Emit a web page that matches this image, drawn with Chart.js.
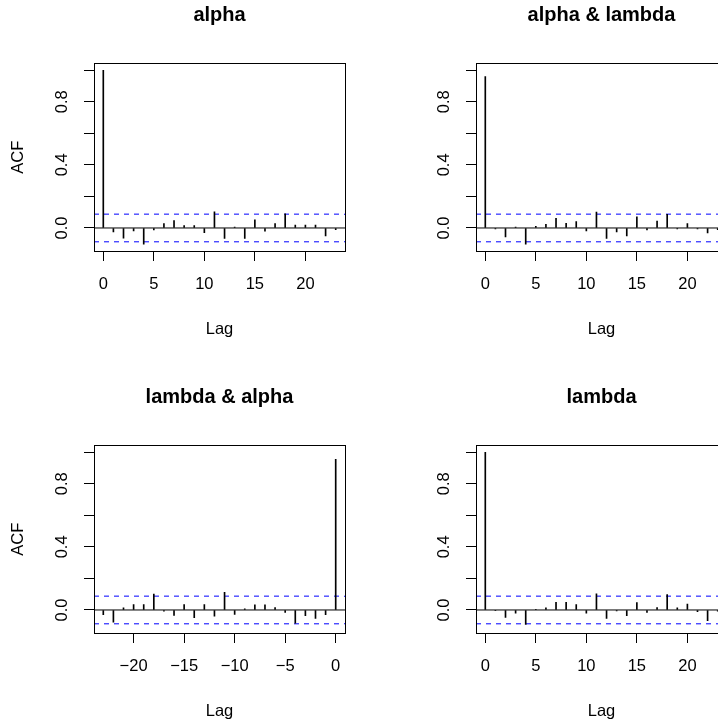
<!DOCTYPE html>
<html>
<head>
<meta charset="utf-8">
<script src="https://cdn.jsdelivr.net/npm/chart.js@4"></script>
<style>
  html, body { margin:0; padding:0; background:#fff; overflow:hidden; width:718px; height:721px; }
  #wrap { position:relative; width:764px; height:764px; }
  #wrap canvas { position:absolute; }
</style>
</head>
<body>
<div id="wrap">
  <canvas id="p-alpha" width="382" height="382" style="left:0;top:0"></canvas>
  <canvas id="p-alpha-lambda" width="382" height="382" style="left:382px;top:0"></canvas>
  <canvas id="p-lambda-alpha" width="382" height="382" style="left:0;top:382px"></canvas>
  <canvas id="p-lambda" width="382" height="382" style="left:382px;top:382px"></canvas>
</div>
<script>
// lags
const lagsPos = [0,1,2,3,4,5,6,7,8,9,10,11,12,13,14,15,16,17,18,19,20,21,22,23];
const lagsNeg = [-23,-22,-21,-20,-19,-18,-17,-16,-15,-14,-13,-12,-11,-10,-9,-8,-7,-6,-5,-4,-3,-2,-1,0];

// ACF values
const acfAlpha = [1.0,-0.025,-0.064,-0.019,-0.102,-0.013,0.028,0.047,0.015,0.015,-0.030,0.102,
                  -0.066,0.006,-0.066,0.051,-0.021,0.028,0.089,0.019,0.019,0.019,-0.051,-0.011];
const acfAlphaLambda = [0.960,-0.006,-0.057,0.005,-0.102,0.010,0.023,0.061,0.030,0.040,-0.019,0.100,
                        -0.066,-0.025,-0.051,0.070,-0.013,0.044,0.087,-0.006,0.028,-0.006,-0.032,-0.010];
const acfLambdaAlpha = [-0.030,-0.078,0.013,0.034,0.034,0.100,-0.008,-0.034,0.034,-0.049,0.034,-0.040,
                        0.112,-0.028,0.008,0.032,0.032,0.015,-0.015,-0.083,-0.036,-0.053,-0.030,0.955];
const acfLambda = [1.0,-0.003,-0.047,-0.021,-0.091,0.004,0.013,0.049,0.049,0.034,-0.021,0.102,
                   -0.053,-0.006,-0.036,0.047,-0.015,0.015,0.097,0.013,0.038,-0.011,-0.068,-0.008];

const ciBound = 0.0877;
const yLabelTicks = [0, 0.4, 0.8];
const yMin = -0.146, yMax = 1.044;
const posRange = [-0.92, 23.92];
const negRange = [-23.92, 0.92];

const FONT = '"Liberation Sans", Arial, sans-serif';
Chart.defaults.font.family = FONT;
Chart.defaults.color = '#000';

const framePlugin = {
  id: 'frame',
  afterDraw(chart) {
    const a = chart.chartArea, ctx = chart.ctx;
    ctx.save();
    ctx.strokeStyle = '#000';
    ctx.lineWidth = 1;
    ctx.strokeRect(Math.round(a.left) + 0.5, Math.round(a.top) + 0.5,
                   Math.round(a.right - a.left), Math.round(a.bottom - a.top));
    ctx.restore();
  }
};

// R rotates y tick labels and centres the main title over the plot box
const textPlugin = {
  id: 'rText',
  afterDraw(chart, args, opts) {
    const ys = chart.scales.y, ctx = chart.ctx, a = chart.chartArea;
    ctx.save();
    ctx.fillStyle = '#000';
    ctx.font = 'bold 20px ' + FONT;
    ctx.textAlign = 'center';
    ctx.textBaseline = 'alphabetic';
    ctx.fillText(opts.title, (a.left + a.right) / 2, 21);
    ctx.font = '16.5px ' + FONT;
    ctx.textBaseline = 'middle';
    yLabelTicks.forEach(v => {
      ctx.save();
      ctx.translate(62.5, ys.getPixelForValue(v));
      ctx.rotate(-Math.PI / 2);
      ctx.fillText(v.toFixed(1), 0, 0);
      ctx.restore();
    });
    ctx.restore();
  }
};

function hline(y, range, color, dash) {
  return {
    type: 'line',
    data: [{x: range[0], y: y}, {x: range[1], y: y}],
    borderColor: color, borderWidth: 1, borderDash: dash,
    pointRadius: 0, fill: false
  };
}

function makePanel(id, title, lags, acf, range, showYTitle) {
  new Chart(document.getElementById(id), {
    type: 'bar',
    data: {
      datasets: [
        { type: 'bar', data: lags.map((l, i) => ({x: l, y: acf[i]})),
          backgroundColor: '#000', barThickness: 1 },
        hline(0, range, '#000', []),
        hline(ciBound, range, '#0000ff', [5, 5]),
        hline(-ciBound, range, '#0000ff', [5, 5])
      ]
    },
    options: {
      responsive: false,
      animation: false,
      devicePixelRatio: 1,
      layout: { padding: { left: 0, right: 37, top: 63.3, bottom: 0 } },
      plugins: {
        legend: { display: false },
        tooltip: { enabled: false },
        title: { display: false },
        rText: { title: title }
      },
      scales: {
        x: {
          type: 'linear', min: range[0], max: range[1], offset: false,
          afterFit: s => { s.height = 131; },
          grid: { display: true, offset: false, drawOnChartArea: false, drawTicks: true,
                  tickLength: 10, color: '#000', lineWidth: 1 },
          border: { display: false },
          ticks: { stepSize: 5, includeBounds: false, autoSkip: false, maxRotation: 0,
                   padding: 14, font: { size: 16.5 },
                   callback: v => String(v).replace('-', '\u2212') },
          title: { display: true, text: 'Lag', font: { size: 16.5 },
                   padding: { top: 0, bottom: 43 } }
        },
        y: {
          type: 'linear', min: yMin, max: yMax,
          afterFit: s => { s.width = 94; },
          grid: { display: true, drawOnChartArea: false, drawTicks: true,
                  tickLength: 10, color: '#000', lineWidth: 1 },
          border: { display: false },
          ticks: { stepSize: 0.2, includeBounds: false, display: false },
          title: { display: showYTitle, text: 'ACF', font: { size: 16.5 },
                   padding: { top: 9, bottom: 0 } }
        }
      }
    },
    plugins: [framePlugin, textPlugin]
  });
}

makePanel('p-alpha', 'alpha', lagsPos, acfAlpha, posRange, true);
makePanel('p-alpha-lambda', 'alpha & lambda', lagsPos, acfAlphaLambda, posRange, false);
makePanel('p-lambda-alpha', 'lambda & alpha', lagsNeg, acfLambdaAlpha, negRange, true);
makePanel('p-lambda', 'lambda', lagsPos, acfLambda, posRange, false);
</script>
</body>
</html>
